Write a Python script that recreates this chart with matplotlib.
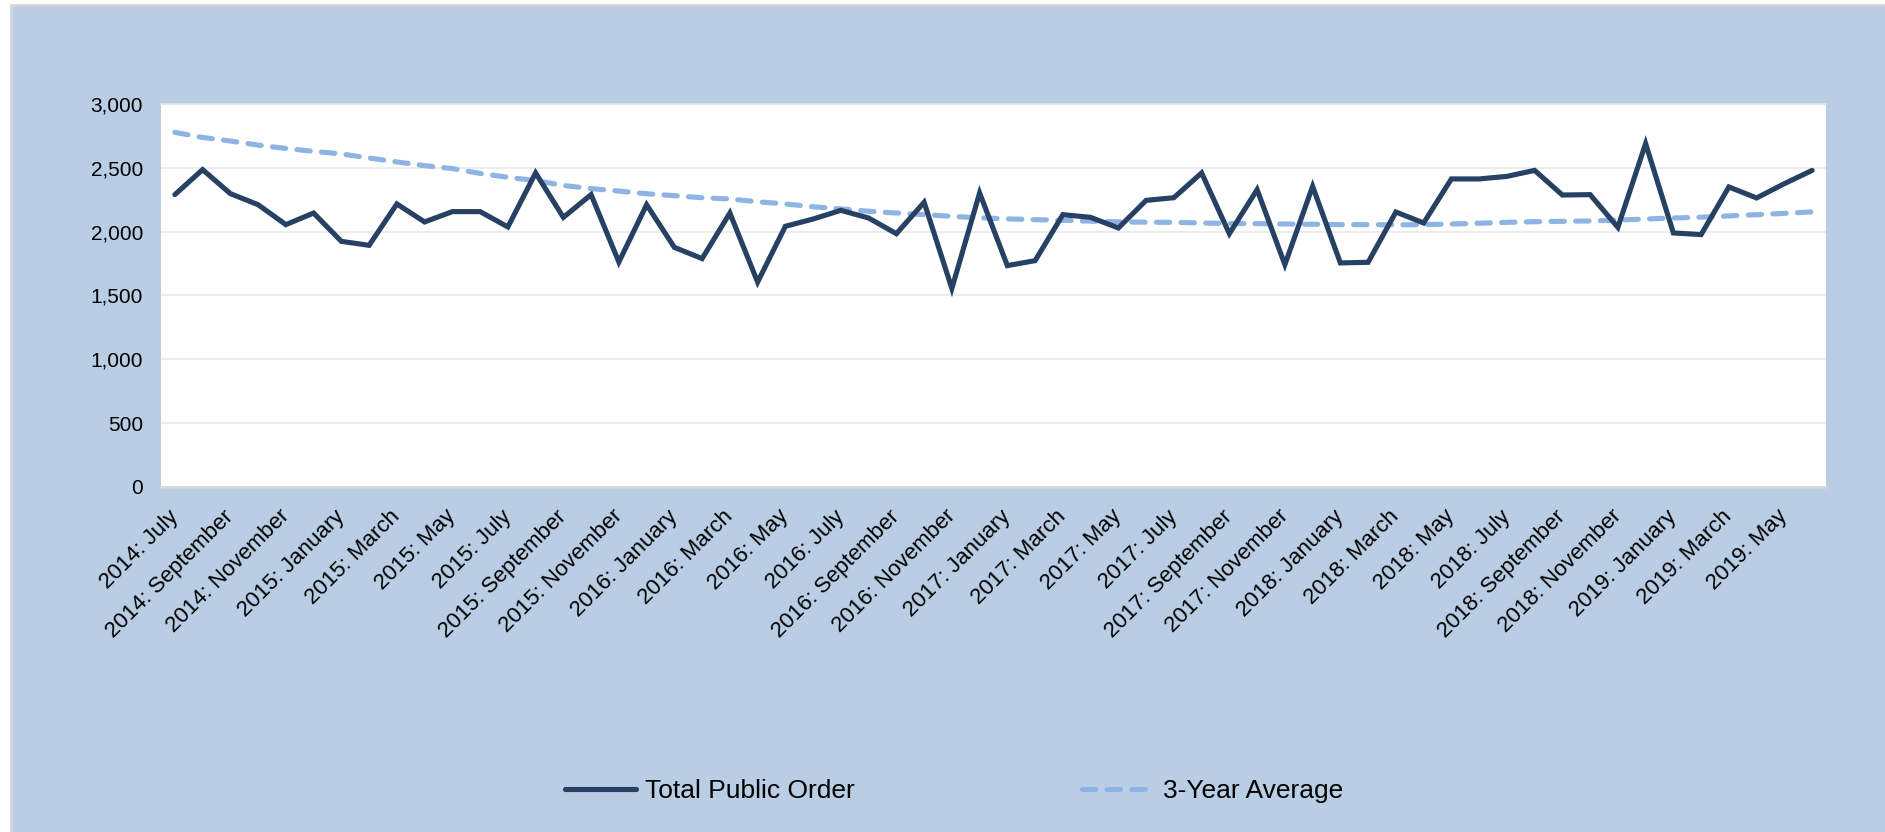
import numpy as np
import matplotlib
matplotlib.use("Agg")
import matplotlib.pyplot as plt
from matplotlib.patches import Rectangle

plt.rcParams['font.family'] = ['Liberation Sans', 'DejaVu Sans']

# monthly counts, 2014 July .. 2019 June
totalPublicOrder = [2290, 2486, 2298, 2211, 2055, 2146, 1924, 1893, 2217, 2076, 2157, 2157,
                    2037, 2460, 2112, 2290, 1762, 2211, 1877, 1789, 2146, 1605, 2042, 2099,
                    2167, 2107, 1984, 2230, 1555, 2303, 1734, 1773, 2133, 2112, 2029, 2245,
                    2266, 2460, 1984, 2329, 1742, 2355, 1755, 1760, 2154, 2068, 2413, 2413,
                    2433, 2480, 2287, 2290, 2034, 2690, 1990, 1977, 2350, 2264, 2376, 2480]
threeYearAverage = [2778, 2738, 2710, 2678, 2652, 2629, 2609, 2577, 2546, 2517, 2494, 2456,
                    2426, 2400, 2362, 2337, 2318, 2297, 2282, 2266, 2256, 2234, 2217, 2195,
                    2178, 2160, 2146, 2133, 2120, 2108, 2100, 2094, 2089, 2082, 2077, 2074,
                    2073, 2068, 2064, 2063, 2060, 2058, 2055, 2055, 2053, 2055, 2060, 2066,
                    2073, 2078, 2081, 2084, 2091, 2099, 2107, 2113, 2123, 2133, 2143, 2155]
tickLabels = ["2014: July", "2014: September", "2014: November",
              "2015: January", "2015: March", "2015: May", "2015: July", "2015: September", "2015: November",
              "2016: January", "2016: March", "2016: May", "2016: July", "2016: September", "2016: November",
              "2017: January", "2017: March", "2017: May", "2017: July", "2017: September", "2017: November",
              "2018: January", "2018: March", "2018: May", "2018: July", "2018: September", "2018: November",
              "2019: January", "2019: March", "2019: May"]

bgBlue = '#B9CDE4'
darkLine = '#264163'
lightLine = '#8DB4E2'

fig = plt.figure(figsize=(18.85, 8.32), dpi=100)
fig.patch.set_facecolor('white')
# blue panel behind everything, with a thin grey edge
fig.patches.append(Rectangle((0.0058, -0.02), 1.02, 1.014, transform=fig.transFigure,
                             facecolor=bgBlue, edgecolor='#D4D4D4', linewidth=2, zorder=-10))

ax = fig.add_axes([0.0854, 0.4147, 0.8833, 0.4603])
ax.set_zorder(1)
ax.set_facecolor('white')

xs = np.arange(len(totalPublicOrder))
ax.plot(xs, totalPublicOrder, color=darkLine, linewidth=3.7, solid_capstyle='round',
        solid_joinstyle='miter', label='Total Public Order', zorder=3)
ax.plot(xs, threeYearAverage, color=lightLine, linewidth=3.7, linestyle=(0, (2.6, 2.2)),
        dash_capstyle='round', label='3-Year Average', zorder=2)

ax.set_xlim(-0.5, len(xs) - 0.5)
ax.set_ylim(0, 3000)
ax.set_yticks(np.arange(0, 3001, 500))
ax.set_yticklabels([f"{v:,}" for v in range(0, 3001, 500)])
ax.grid(axis='y', color='#EBEBEB', linewidth=1.3)
ax.set_axisbelow(True)

ax.set_xticks(xs[::2])
ax.set_xticklabels(tickLabels, rotation=45, ha='right', va='center', rotation_mode='anchor')

ax.tick_params(axis='y', length=0, pad=13, labelsize=15)
ax.tick_params(axis='x', length=0, pad=19, labelsize=16)

for side in ['left', 'right']:
    ax.spines[side].set_visible(False)
ax.spines['top'].set_color('#E4E4E4')
ax.spines['top'].set_linewidth(1.2)
ax.spines['bottom'].set_color('#D6D6D6')
ax.spines['bottom'].set_linewidth(1.8)

fig.legend(loc='center', bbox_to_anchor=(0.506, 0.049), ncol=2, frameon=False,
           fontsize=19, handlelength=2.7, handletextpad=0.35, columnspacing=8.6)

fig.savefig('out.png', dpi=100, facecolor=fig.get_facecolor())
